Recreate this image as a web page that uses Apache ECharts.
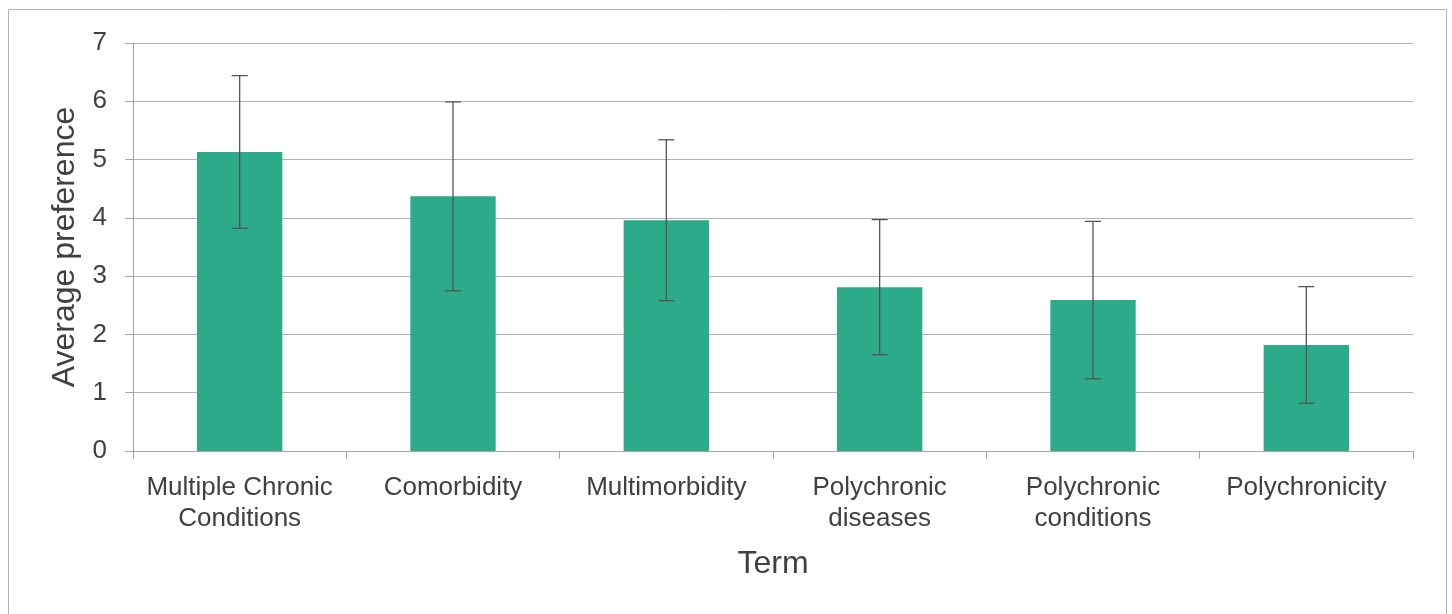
<!DOCTYPE html>
<html><head><meta charset="utf-8">
<script src="https://cdn.jsdelivr.net/npm/echarts@6/dist/echarts.min.js"></script>
<style>html,body{margin:0;padding:0;background:#fff}#c{width:1452px;height:614px}</style>
</head><body><div id="c"></div>
<script>
const categories = ['Multiple Chronic\nConditions', 'Comorbidity', 'Multimorbidity', 'Polychronic\ndiseases', 'Polychronic\nconditions', 'Polychronicity'];
const means = [5.13, 4.37, 3.96, 2.81, 2.59, 1.82];
const errors = [1.31, 1.62, 1.38, 1.16, 1.35, 1.0];
const yTicks = [0, 1, 2, 3, 4, 5, 6, 7];

const errData = means.map((m, i) => [i, m - errors[i], m + errors[i]]);
const chart = echarts.init(document.getElementById('c'));
const textColor = '#404040';
chart.setOption({
  animation: false,
  graphic: [{type: 'rect', shape: {x: 8.5, y: 9.5, width: 1438, height: 620}, style: {fill: 'none', stroke: '#b3b3b3', lineWidth: 1}}],
  grid: {left: 133, right: 39, top: 43, bottom: 163},
  xAxis: {
    type: 'category', data: categories,
    name: 'Term', nameLocation: 'middle', nameGap: 97,
    nameTextStyle: {color: textColor, fontSize: 32, fontFamily: 'Liberation Sans'},
    axisLine: {lineStyle: {color: '#a6a6a6'}},
    axisTick: {show: true, length: 8, lineStyle: {color: '#a6a6a6'}},
    axisLabel: {color: textColor, fontSize: 26, fontFamily: 'Liberation Sans', margin: 21, lineHeight: 31, interval: 0}
  },
  yAxis: {
    type: 'value', min: 0, max: 7, interval: 1,
    name: 'Average preference', nameLocation: 'middle', nameGap: 47,
    nameTextStyle: {color: textColor, fontSize: 32, fontFamily: 'Liberation Sans'},
    axisLine: {show: true, lineStyle: {color: '#a6a6a6'}},
    axisTick: {show: true, length: 8, lineStyle: {color: '#a6a6a6'}},
    axisLabel: {color: textColor, fontSize: 26, fontFamily: 'Liberation Sans', margin: 26, padding: [4, 0, 0, 0],
      formatter: v => yTicks.includes(v) ? String(v) : ''},
    splitLine: {lineStyle: {color: '#b3b3b3', width: 1}}
  },
  series: [
    {type: 'bar', data: means, barWidth: '40%', itemStyle: {color: '#2bab88'}},
    {type: 'custom', data: errData, z: 10,
      renderItem: function (params, api) {
        const x = api.value(0);
        const lo = api.coord([x, api.value(1)]);
        const hi = api.coord([x, api.value(2)]);
        const cap = 8;
        const st = {stroke: '#555', lineWidth: 1.3};
        return {type: 'group', children: [
          {type: 'line', shape: {x1: hi[0], y1: hi[1], x2: lo[0], y2: lo[1]}, style: st},
          {type: 'line', shape: {x1: hi[0] - cap, y1: hi[1], x2: hi[0] + cap, y2: hi[1]}, style: st},
          {type: 'line', shape: {x1: lo[0] - cap, y1: lo[1], x2: lo[0] + cap, y2: lo[1]}, style: st}
        ]};
      }
    }
  ]
});
</script></body></html>
